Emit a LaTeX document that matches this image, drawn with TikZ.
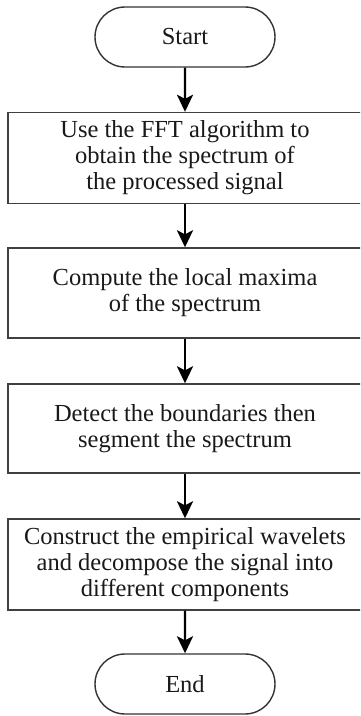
\documentclass[tikz,border=0pt]{standalone}
\usepackage{fontspec}
\setmainfont{Liberation Serif}
\usetikzlibrary{arrows.meta,shapes.misc}
\begin{document}
\begin{tikzpicture}[x=1pt,y=-1pt,
  every node/.style={font=\fontsize{24.5}{26}\selectfont, align=center, text=black!90},
  term/.style={draw=black!80, line width=1.4pt, rounded rectangle, minimum width=180pt, minimum height=60pt, inner sep=0pt},
  procbox/.style={draw=black!75, line width=1.4pt, minimum width=354pt, inner sep=0pt},
  flow/.style={line width=2.4pt, -{Stealth[length=17pt,width=16pt,inset=4pt]}}]
\useasboundingbox (0,0) rectangle (360,716);
\begin{scope}
\clip (0,0) rectangle (360,716);
\node[term] (start) at (185,37) {Start};
\node[procbox, minimum height=91pt] (b1) at (185,158) {Use the FFT algorithm to\\obtain the spectrum of\\the processed signal};
\node[procbox, minimum height=90pt] (b2) at (185,293) {Compute the local maxima\\of the spectrum};
\node[procbox, minimum height=89pt] (b3) at (185,428.5) {Detect the boundaries then\\segment the spectrum};
\node[procbox, minimum height=91pt] (b4) at (185,564.5) {Construct the empirical wavelets\\and decompose the signal into\\different components};
\node[term] (end) at (185,684) {End};
\draw[flow] (start) -- (b1);
\draw[flow] (b1) -- (b2);
\draw[flow] (b2) -- (b3);
\draw[flow] (b3) -- (b4);
\draw[flow] (b4) -- (end);
\end{scope}
\end{tikzpicture}
\end{document}
